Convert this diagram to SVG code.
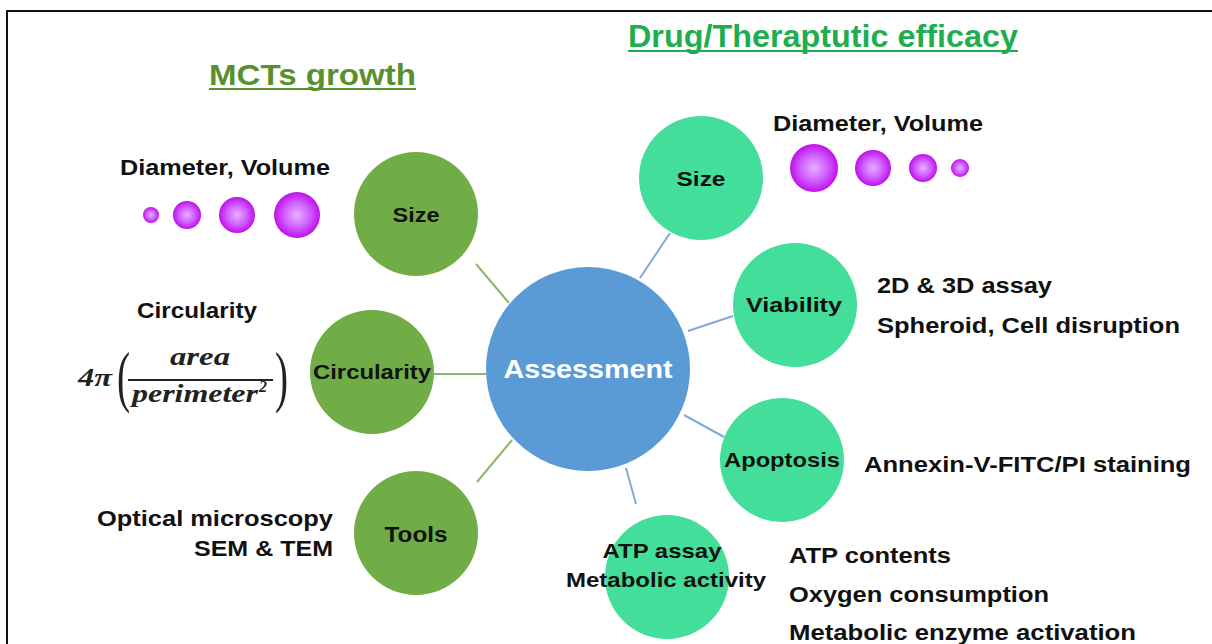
<svg xmlns="http://www.w3.org/2000/svg" width="1212" height="644" viewBox="0 0 1212 644">
<style>
.t{font-family:"Liberation Sans",Arial,sans-serif;font-weight:bold;fill:#111}
.lab{font-family:"Liberation Sans",Arial,sans-serif;font-weight:bold;fill:#111;text-anchor:middle}
.g{fill:#70ad47}
.c{fill:#43df9a}
.m{font-family:"Liberation Serif","Times New Roman",serif;font-weight:bold;font-style:italic;fill:#222}
</style>
<defs>
<radialGradient id="sph" cx="50%" cy="50%" r="50%">
<stop offset="0" stop-color="#e6b0ff"/>
<stop offset="0.55" stop-color="#d060ff"/>
<stop offset="1" stop-color="#c010ea"/>
</radialGradient>
</defs>
<rect x="0" y="0" width="1212" height="644" fill="#fff"/>
<path d="M7 644 V11 H1212" fill="none" stroke="#111" stroke-width="2"/>

<g id="titles">
<text class="t" x="209" y="85" font-size="30" style="fill:#5a8f2e" textLength="207" lengthAdjust="spacingAndGlyphs">MCTs growth</text>
<rect x="209" y="88" width="207" height="2" fill="#5a8f2e"/>
<text class="t" x="628" y="47" font-size="32" style="fill:#1fad4f" textLength="390" lengthAdjust="spacingAndGlyphs">Drug/Theraptutic efficacy</text>
<rect x="628" y="50" width="390" height="2" fill="#1fad4f"/>
</g>

<g id="connectors" stroke-width="2" fill="none">
<line x1="476" y1="264" x2="509" y2="303" stroke="#8db56a"/>
<line x1="434" y1="374" x2="486" y2="374" stroke="#8db56a"/>
<line x1="477" y1="482" x2="512" y2="440" stroke="#8db56a"/>
<line x1="670" y1="233" x2="640" y2="278" stroke="#80aadb"/>
<line x1="733" y1="316" x2="688" y2="331" stroke="#80aadb"/>
<line x1="724" y1="437" x2="684" y2="415" stroke="#80aadb"/>
<line x1="626" y1="468" x2="636" y2="504" stroke="#80aadb"/>
</g>

<g id="assessment">
<circle cx="588" cy="369" r="102" fill="#5b9bd5"/>
<text x="588" y="378" font-size="26" font-family="Liberation Sans, Arial, sans-serif" font-weight="bold" fill="#fff" text-anchor="middle" textLength="169" lengthAdjust="spacingAndGlyphs">Assessment</text>
</g>

<g id="size-left">
<circle class="g" cx="416" cy="214" r="62"/>
<text class="lab" x="416" y="222" font-size="21" textLength="47" lengthAdjust="spacingAndGlyphs">Size</text>
</g>
<g id="circularity">
<circle class="g" cx="372" cy="372" r="62"/>
<text class="lab" x="372" y="379" font-size="21" textLength="118" lengthAdjust="spacingAndGlyphs">Circularity</text>
</g>
<g id="tools">
<circle class="g" cx="416" cy="533" r="62"/>
<text class="lab" x="416" y="542" font-size="22" textLength="63" lengthAdjust="spacingAndGlyphs">Tools</text>
</g>

<g id="size-right">
<circle class="c" cx="701" cy="178" r="62"/>
<text class="lab" x="701" y="186" font-size="21" textLength="49" lengthAdjust="spacingAndGlyphs">Size</text>
</g>
<g id="viability">
<circle class="c" cx="795" cy="305" r="62"/>
<text class="lab" x="794" y="312" font-size="21" textLength="96" lengthAdjust="spacingAndGlyphs">Viability</text>
</g>
<g id="apoptosis">
<circle class="c" cx="782" cy="460" r="62"/>
<text class="lab" x="782" y="467" font-size="21" textLength="116" lengthAdjust="spacingAndGlyphs">Apoptosis</text>
</g>
<g id="atp">
<circle class="c" cx="667" cy="577" r="62"/>
<text class="lab" x="662" y="558" font-size="21" textLength="119" lengthAdjust="spacingAndGlyphs">ATP assay</text>
<text class="lab" x="666" y="587" font-size="21" textLength="200" lengthAdjust="spacingAndGlyphs">Metabolic activity</text>
</g>

<g id="size-left-notes">
<text class="t" x="120" y="175" font-size="22" textLength="210" lengthAdjust="spacingAndGlyphs">Diameter, Volume</text>
<circle cx="151" cy="215" r="8" fill="url(#sph)"/>
<circle cx="187" cy="215" r="14" fill="url(#sph)"/>
<circle cx="237" cy="215" r="18" fill="url(#sph)"/>
<circle cx="297" cy="215" r="23" fill="url(#sph)"/>
</g>

<g id="circularity-notes">
<text class="t" x="137" y="318" font-size="22" textLength="120" lengthAdjust="spacingAndGlyphs">Circularity</text>
<text class="m" x="78" y="386" font-size="25" textLength="34" lengthAdjust="spacingAndGlyphs">4π</text>
<text x="117" y="399" font-size="56" font-family="Liberation Serif, serif" fill="#222" transform="translate(117 399) scale(0.7 1.2) translate(-117 -399)">(</text>
<text x="275" y="399" font-size="56" font-family="Liberation Serif, serif" fill="#222" transform="translate(275 399) scale(0.7 1.2) translate(-275 -399)">)</text>
<text class="m" x="170" y="365" font-size="25" textLength="60" lengthAdjust="spacingAndGlyphs">area</text>
<rect x="128" y="379" width="145" height="2" fill="#222"/>
<text class="m" x="132" y="402" font-size="25" textLength="126" lengthAdjust="spacingAndGlyphs">perimeter</text>
<text class="m" x="259" y="392" font-size="16">2</text>
</g>

<g id="tools-notes">
<text class="t" x="333" y="526" font-size="22" text-anchor="end" textLength="236" lengthAdjust="spacingAndGlyphs">Optical microscopy</text>
<text class="t" x="333" y="556" font-size="22" text-anchor="end" textLength="139" lengthAdjust="spacingAndGlyphs">SEM &amp; TEM</text>
</g>

<g id="size-right-notes">
<text class="t" x="773" y="131" font-size="22" textLength="210" lengthAdjust="spacingAndGlyphs">Diameter, Volume</text>
<circle cx="814" cy="168" r="24" fill="url(#sph)"/>
<circle cx="873" cy="168" r="18" fill="url(#sph)"/>
<circle cx="923" cy="168" r="14" fill="url(#sph)"/>
<circle cx="960" cy="168" r="9" fill="url(#sph)"/>
</g>

<g id="viability-notes">
<text class="t" x="877" y="293" font-size="22" textLength="175" lengthAdjust="spacingAndGlyphs">2D &amp; 3D assay</text>
<text class="t" x="877" y="333" font-size="22" textLength="303" lengthAdjust="spacingAndGlyphs">Spheroid, Cell  disruption</text>
</g>
<g id="apoptosis-notes">
<text class="t" x="864" y="472" font-size="22" textLength="327" lengthAdjust="spacingAndGlyphs">Annexin-V-FITC/PI  staining</text>
</g>
<g id="atp-notes">
<text class="t" x="789" y="563" font-size="22" textLength="162" lengthAdjust="spacingAndGlyphs">ATP  contents</text>
<text class="t" x="789" y="602" font-size="22" textLength="260" lengthAdjust="spacingAndGlyphs">Oxygen consumption</text>
<text class="t" x="789" y="640" font-size="22" textLength="347" lengthAdjust="spacingAndGlyphs">Metabolic enzyme activation</text>
</g>
</svg>
